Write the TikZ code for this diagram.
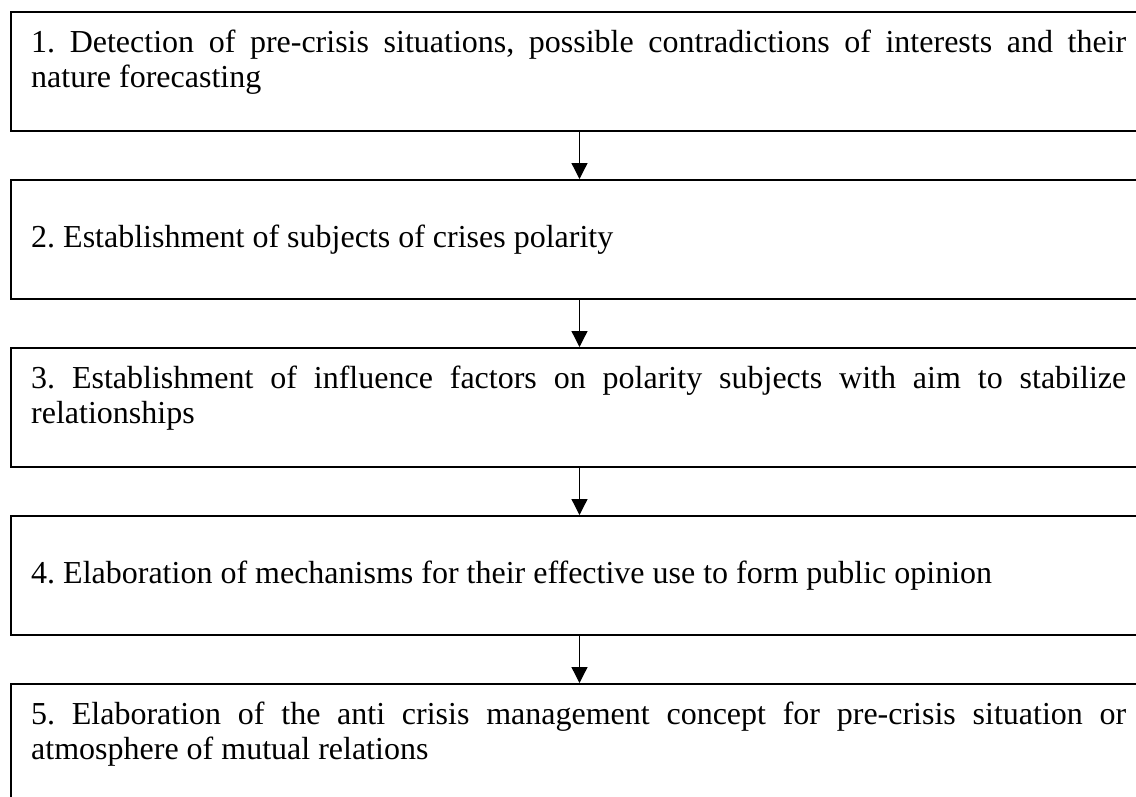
\documentclass[tikz,border=0pt]{standalone}
\usepackage{fontspec}
\setmainfont{Liberation Serif}
\usetikzlibrary{arrows.meta}
\hyphenpenalty=10000
\exhyphenpenalty=10000
\tolerance=9999
\frenchspacing
\tikzset{
  stepbox/.style={draw, line width=2pt, rectangle, minimum width=1137pt, minimum height=119pt, anchor=north west, inner sep=0pt},
  steptext/.style={anchor=north west, inner sep=0pt, text width=1095pt, align=justify, font=\fontsize{32}{35.5}\selectfont},
  flow/.style={line width=1.3pt, -{Triangle[width=16pt,length=16pt]}}
}
\newcommand{\firststrut}{\rule{0pt}{25pt}}
\begin{document}
\begin{tikzpicture}[x=1pt,y=-1pt]
\useasboundingbox (0,0) rectangle (1136,796);
\node[stepbox] (b1) at (10,11) {};
\node[stepbox] (b2) at (10,179) {};
\node[stepbox] (b3) at (10,347) {};
\node[stepbox] (b4) at (10,515) {};
\node[stepbox] (b5) at (10,683) {};
\node[steptext] (t1) at (31,27) {\firststrut 1. Detection of pre-crisis situations, possible contradictions of interests and their\linebreak nature forecasting};
\node[steptext] (t2) at (31,222) {\firststrut 2. Establishment of subjects of crises polarity};
\node[steptext] (t3) at (31,363) {\firststrut 3. Establishment of influence factors on polarity subjects with aim to stabilize relationships};
\node[steptext] (t4) at (31,558) {\firststrut 4. Elaboration of mechanisms for their effective use to form public opinion};
\node[steptext] (t5) at (31,699) {\firststrut 5. Elaboration of the anti crisis management concept for pre-crisis situation or atmosphere of mutual relations};
\draw[flow] (b1.south) -- (b2.north);
\draw[flow] (b2.south) -- (b3.north);
\draw[flow] (b3.south) -- (b4.north);
\draw[flow] (b4.south) -- (b5.north);
\end{tikzpicture}
\end{document}
